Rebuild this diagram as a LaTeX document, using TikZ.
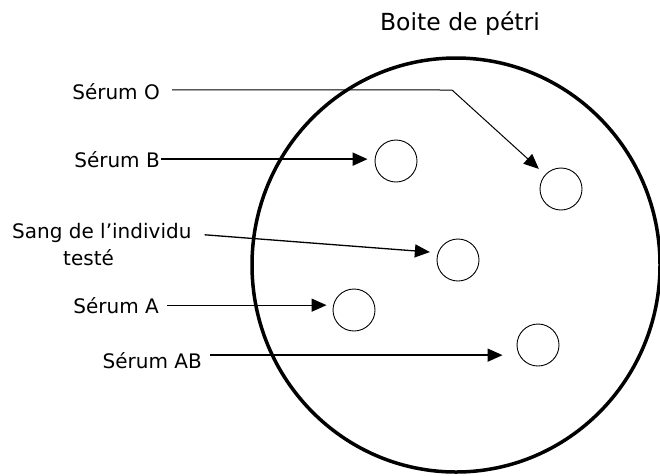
\documentclass[tikz,border=0pt]{standalone}
\usepackage{fontspec}
\setmainfont{DejaVu Sans}
\usetikzlibrary{arrows.meta,shapes.geometric}
\begin{document}
\begin{tikzpicture}[x=1pt,y=-1pt,
  lbl/.style={inner sep=0pt, font=\fontsize{20}{27}\selectfont},
  well/.style={draw, circle, minimum size=42pt, inner sep=0pt, line width=0.9pt},
  arr/.style={-{Triangle[length=15pt,width=13pt]}}]
\useasboundingbox (0,0) rectangle (660,475);
% petri dish
\node[draw, ellipse, minimum width=408pt, minimum height=414pt, inner sep=0pt, line width=3.5pt] (dish) at (456,265) {};
\node[inner sep=0pt, font=\fontsize{23.5}{28}\selectfont, anchor=base] (title) at (460,30) {Boite de pétri};
% labels
\node[lbl, anchor=base east] (lO) at (160,99) {Sérum O};
\node[lbl, anchor=base east] (lB) at (160,167) {Sérum B};
\node[lbl, anchor=base west] (lS) at (12,238) {Sang de l’individu};
\node[lbl, anchor=base west] (lS2) at (63,265) {testé};
\node[lbl, anchor=base east] (lA) at (159,313) {Sérum A};
\node[lbl, anchor=base east] (lAB) at (202,368) {Sérum AB};
% wells
\node[well] (wB) at (396,161) {};
\node[well] (wO) at (561,189) {};
\node[well] (wS) at (458,260) {};
\node[well] (wA) at (354,310) {};
\node[well] (wAB) at (538,345) {};
% connectors
\coordinate (bendO) at (452,90);
\draw[arr, line width=1pt, shorten >=8.5pt] ([xshift=12pt,yshift=1.3pt]lO.east) -- (bendO) -- (wO);
\draw[arr, line width=2pt, shorten >=7pt] ([xshift=1pt]lB.east) -- (lB.east -| wB.west);
\draw[arr, line width=1.3pt, shorten >=8pt] ([xshift=13pt,yshift=-2.3pt]lS.east) -- (wS.160);
\draw[arr, line width=1.2pt, shorten >=6pt] ([xshift=8pt]lA.east) -- (lA.east -| wA.west);
\draw[arr, line width=1.5pt, shorten >=14pt] ([xshift=8pt,yshift=5pt]lAB.east) -- ([yshift=5pt]lAB.east -| wAB.west);
\end{tikzpicture}
\end{document}
